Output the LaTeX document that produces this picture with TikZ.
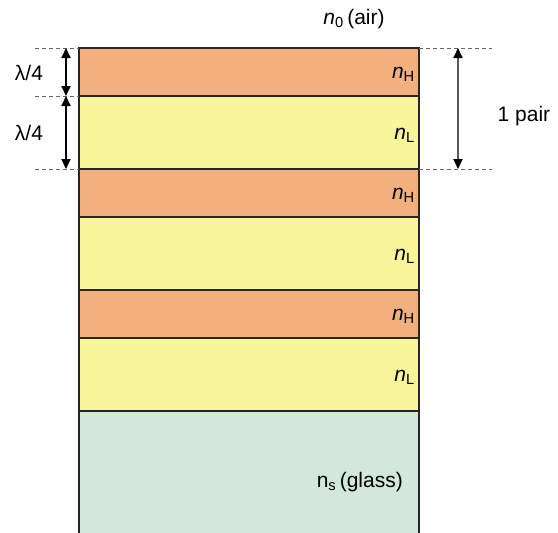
\documentclass[tikz,border=0pt]{standalone}
\usepackage{fontspec}
\setmainfont{Liberation Sans}
\usetikzlibrary{arrows.meta}
\definecolor{hcol}{HTML}{F2B07E}
\definecolor{lcol}{HTML}{F9F59A}
\definecolor{gcol}{HTML}{D4E7DC}
\begin{document}
\begin{tikzpicture}[x=1pt,y=-1pt,
  layer/.style={draw=black!85, line width=1.3pt},
  dim/.style={dash pattern=on 4pt off 3pt, black!60, line width=0.9pt},
  arr/.style={{Triangle[length=10pt,width=9pt]}-{Triangle[length=10pt,width=9pt]}, line width=1.8pt},
  lab/.style={font=\fontsize{21}{24}\selectfont, inner sep=0pt}]
\useasboundingbox (0,0) rectangle (558,533);
% glass
\fill[gcol] (79,411) rectangle (419,533);
\draw[layer] (79,533) -- (79,411) -- (419,411) -- (419,533);
% layers
\filldraw[layer, fill=hcol] (79,48) rectangle (419,96);
\filldraw[layer, fill=lcol] (79,96) rectangle (419,169);
\filldraw[layer, fill=hcol] (79,169) rectangle (419,217);
\filldraw[layer, fill=lcol] (79,217) rectangle (419,290);
\filldraw[layer, fill=hcol] (79,290) rectangle (419,338);
\filldraw[layer, fill=lcol] (79,338) rectangle (419,411);
% coordinates
\coordinate (l1) at (35,48); \coordinate (l1e) at (79,48);
\coordinate (l2) at (35,96); \coordinate (l2e) at (79,96);
\coordinate (l3) at (35,169); \coordinate (l3e) at (79,169);
\coordinate (r1) at (419,48); \coordinate (r1e) at (492,48);
\coordinate (r3) at (419,169); \coordinate (r3e) at (492,169);
\draw[dim] (l1) -- (l1e);
\draw[dim] (l2) -- (l2e);
\draw[dim] (l3) -- (l3e);
\draw[dim] (r1) -- (r1e);
\draw[dim] (r3) -- (r3e);
\coordinate (a1) at (66,48); \coordinate (a2) at (66,96); \coordinate (a3) at (66,169);
\coordinate (b1) at (458,48); \coordinate (b3) at (458,169);
\draw[arr] (a1) -- (a2);
\draw[arr] (a2) -- (a3);
\draw[line width=1.8pt, draw=black!65, {Triangle[length=10pt,width=9pt,color=black]}-{Triangle[length=10pt,width=9pt,color=black]}] (b1) -- (b3);
% labels
\node[lab] (air) at (354,19) {\textit{n}\textsubscript{0}\,(air)};
\node[lab] (q1) at (29,73) {λ/4};
\node[lab] (q2) at (29,133) {λ/4};
\node[lab] (pair) at (524,116) {1 pair};
\node[lab, anchor=east] (h1) at (415,74) {\textit{n}\textsubscript{H}};
\node[lab, anchor=east] (lo1) at (415,135) {\textit{n}\textsubscript{L}};
\node[lab, anchor=east] (h2) at (415,195) {\textit{n}\textsubscript{H}};
\node[lab, anchor=east] (lo2) at (415,256) {\textit{n}\textsubscript{L}};
\node[lab, anchor=east] (h3) at (415,316) {\textit{n}\textsubscript{H}};
\node[lab, anchor=east] (lo3) at (415,377) {\textit{n}\textsubscript{L}};
\node[lab, anchor=east] (gl) at (403,482) {n\textsubscript{s}\,(glass)};
\end{tikzpicture}
\end{document}
